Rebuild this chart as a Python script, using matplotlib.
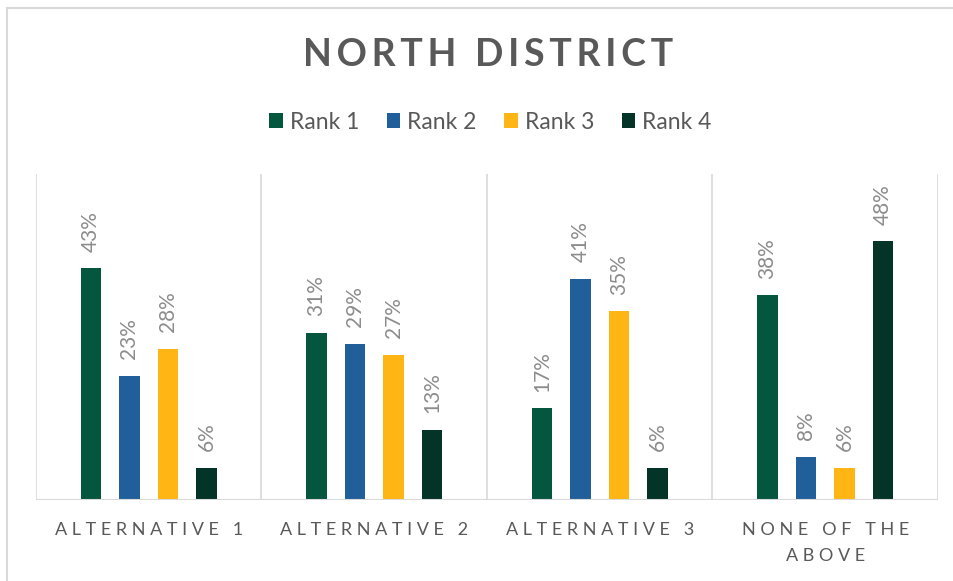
import numpy as np
import matplotlib.pyplot as plt
from matplotlib.lines import Line2D

categories = ["ALTERNATIVE 1", "ALTERNATIVE 2", "ALTERNATIVE 3", "NONE OF THE\nABOVE"]
series = ["Rank 1", "Rank 2", "Rank 3", "Rank 4"]
rank1 = [0.43, 0.31, 0.17, 0.38]
rank2 = [0.23, 0.29, 0.41, 0.08]
rank3 = [0.28, 0.27, 0.35, 0.06]
rank4 = [0.06, 0.13, 0.06, 0.48]
colors = ["#04563E", "#215F9B", "#FFB614", "#043327"]

plt.rcParams['font.family'] = ['Lato', 'DejaVu Sans']
TXT = "#595959"
GRID = "#D9D9D9"


def spaced(s, sep="\u2009"):
    # widen letter spacing line by line
    return "\n".join(sep.join(line) for line in s.split("\n"))


fig = plt.figure(figsize=(9.54, 5.81), dpi=100)
ax = fig.add_axes([36 / 954, 81 / 581, 902 / 954, 326 / 581])

x = np.arange(len(categories))
width = 0.09
step = 0.171
for i, (name, vals) in enumerate(zip(series, [rank1, rank2, rank3, rank4])):
    pos = x + (i - 1.5) * step
    bars = ax.bar(pos, vals, width, color=colors[i], label=name, zorder=3)
    for b, v in zip(bars, vals):
        ax.annotate(f"{v:.0%}", (b.get_x() + b.get_width() / 2, v),
                    xytext=(0, 12), textcoords="offset points",
                    rotation=90, ha="center", va="bottom",
                    fontsize=15, color="#8C8C8C")

ax.set_xlim(-0.5, len(categories) - 0.5)
ax.set_ylim(0, 0.605)
ax.set_yticks([])

# category separators
for b in np.arange(-0.5, len(categories), 1.0):
    ax.axvline(b, color=GRID, lw=1.2, zorder=1)
for s in ax.spines.values():
    s.set_visible(False)
ax.axhline(0, color=GRID, lw=1.5, zorder=4)

ax.set_xticks(x)
ax.set_xticklabels([spaced(c, " ") for c in categories], fontsize=13, color=TXT,
                   linespacing=1.75)
ax.tick_params(axis="x", length=0, pad=16)

fig.text(0.512, 0.905, spaced("NORTH DISTRICT"), ha="center", va="center",
         fontsize=27, color=TXT, fontweight="bold")

leg = fig.legend(loc="center", bbox_to_anchor=(0.514, 0.79), ncol=4,
                 frameon=False, fontsize=16.5, handlelength=0.6, handleheight=0.6,
                 handletextpad=0.3, columnspacing=1.2, labelcolor=TXT)

# outer chart border (left and top edges)
fig.add_artist(Line2D([7 / 954, 7 / 954], [0, 1 - 8 / 581], transform=fig.transFigure,
                      color=GRID, lw=1.5))
fig.add_artist(Line2D([7 / 954, 1], [1 - 8 / 581, 1 - 8 / 581], transform=fig.transFigure,
                      color=GRID, lw=1.5))

fig.savefig("out.png", dpi=100, facecolor="white")
